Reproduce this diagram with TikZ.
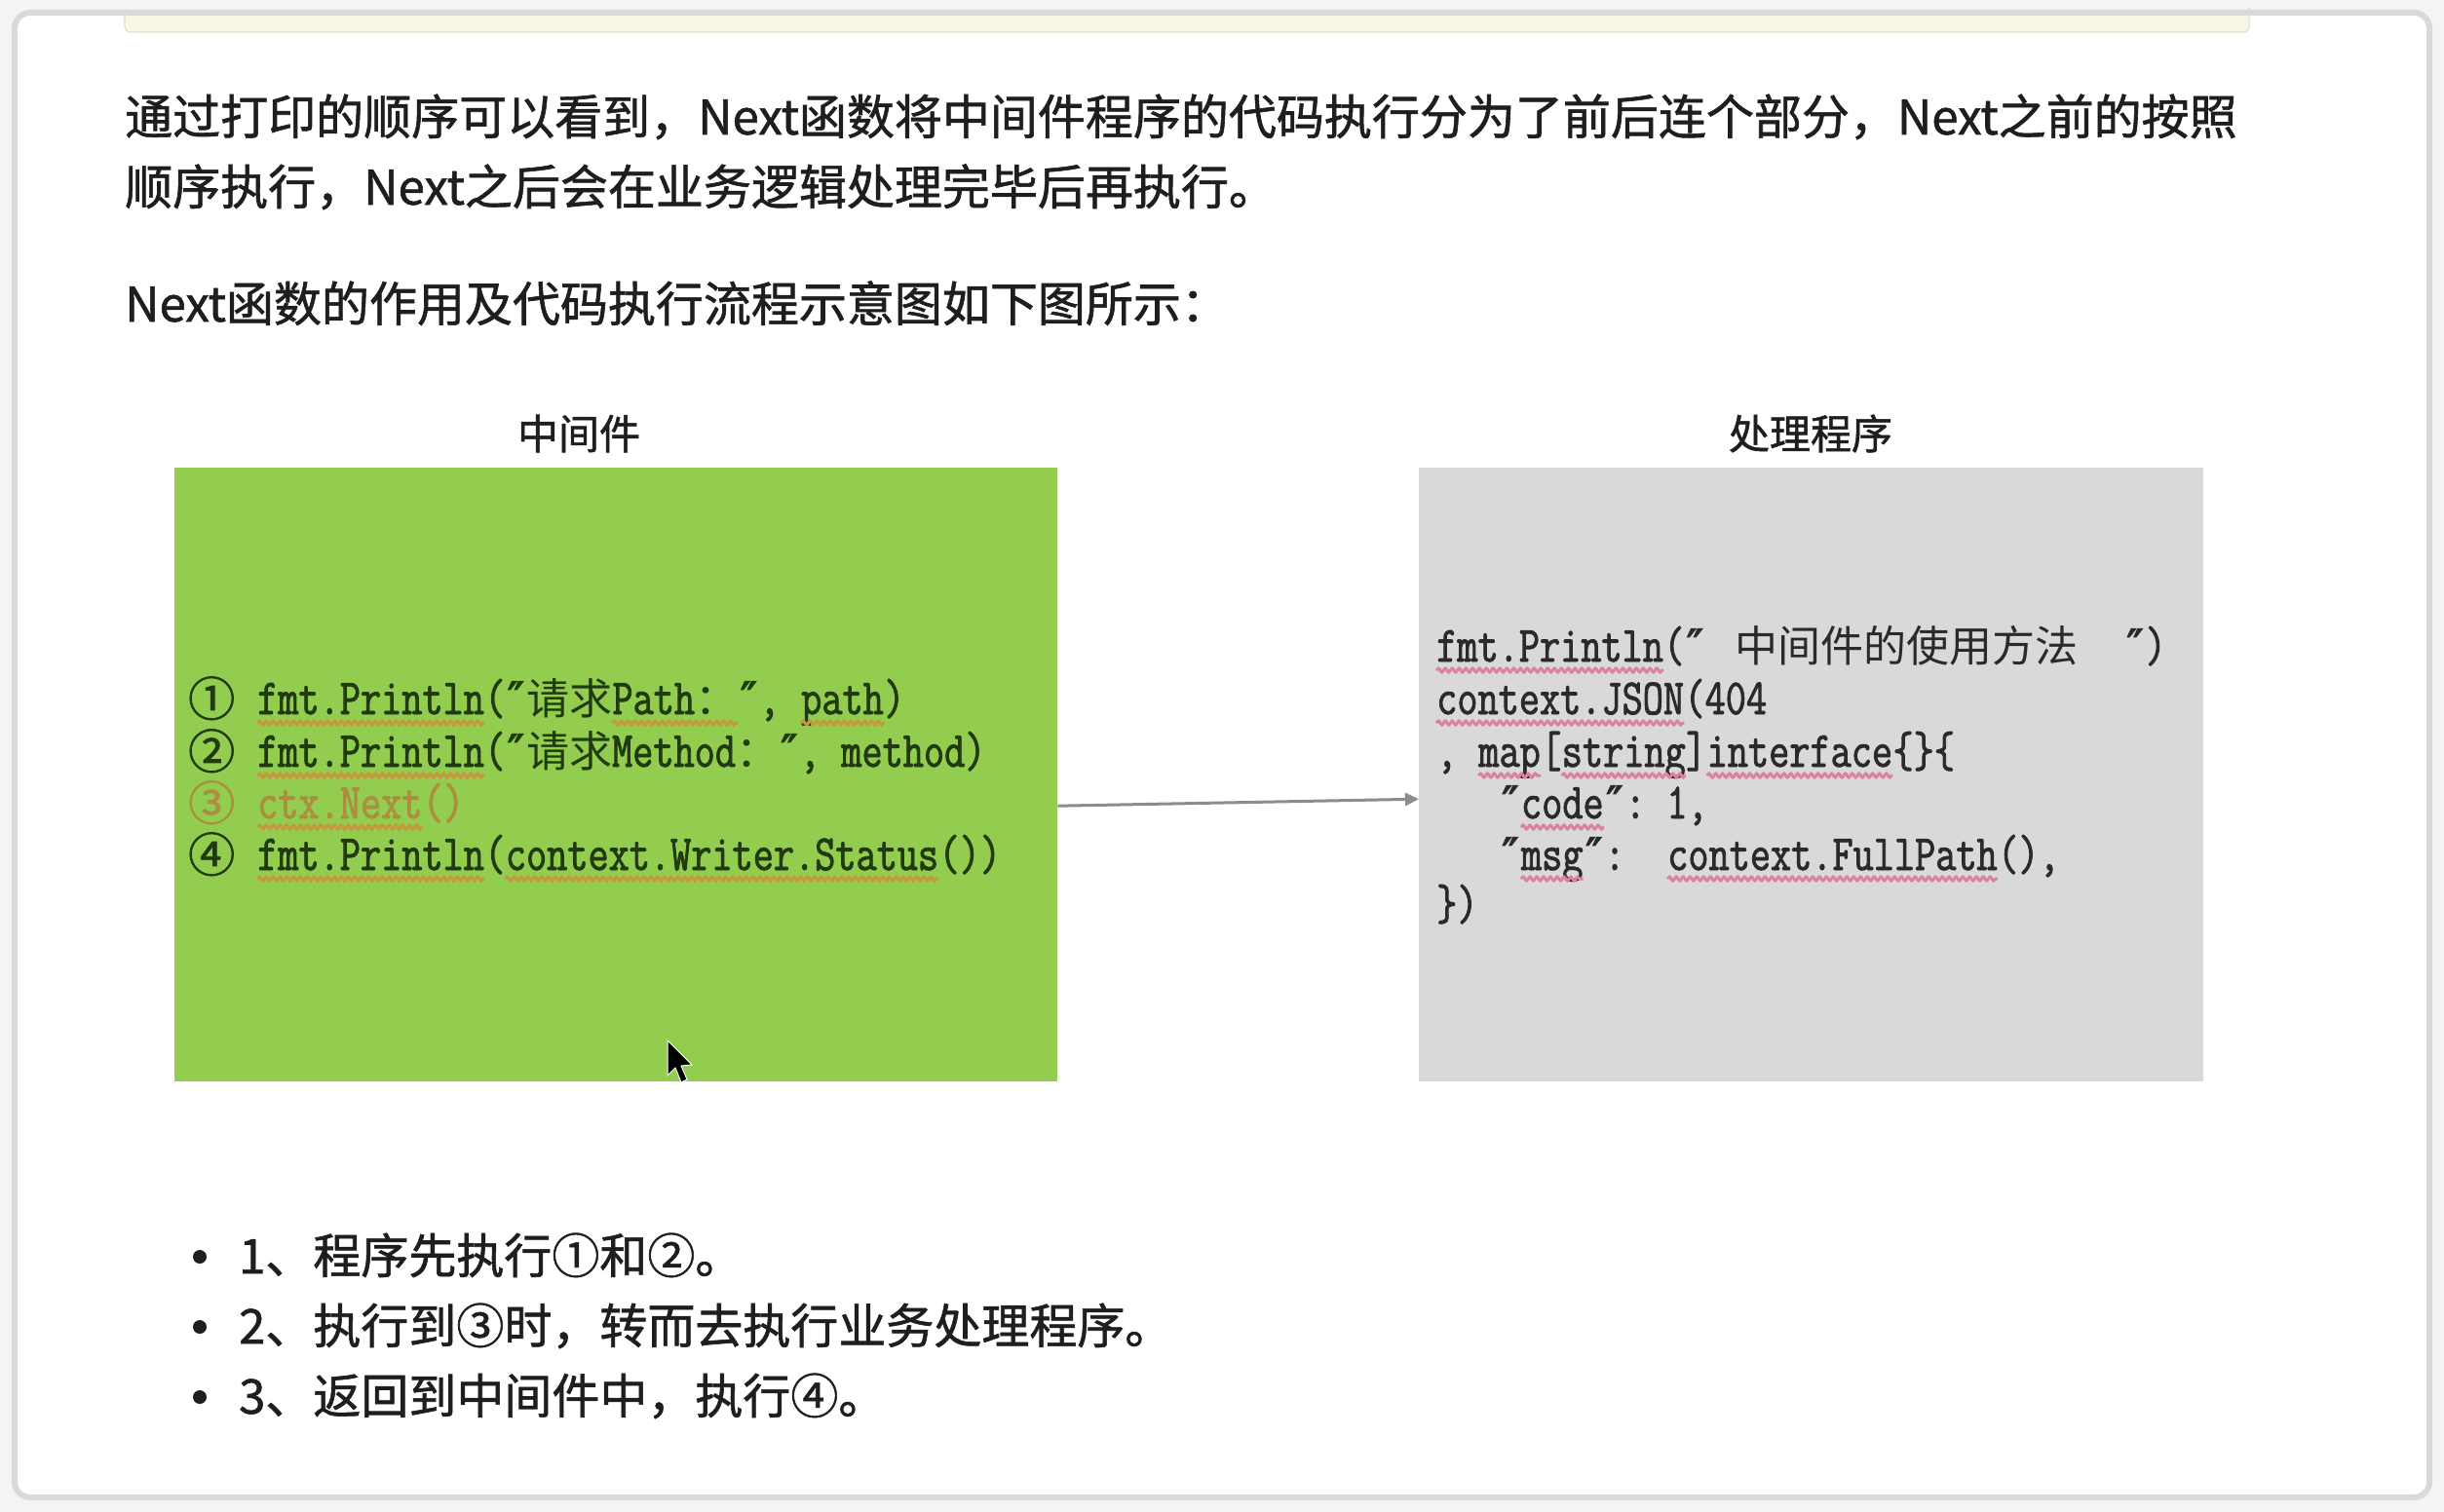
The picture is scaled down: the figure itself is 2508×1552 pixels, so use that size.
\documentclass[tikz,border=0pt]{standalone}
\usepackage{fontspec}
\setmainfont{Noto Sans CJK SC}[FakeBold=1.2]
\newfontfamily\cjk{Noto Sans CJK SC}
\newfontfamily\numfont{Noto Sans CJK SC}[FakeBold=1.6]
\newfontfamily\qfont{DejaVu Sans}[FakeBold=2.5]
\newfontfamily\codefont{Latin Modern Mono}[FakeStretch=0.79,FakeBold=1.6]
\usetikzlibrary{arrows.meta,decorations.pathmorphing}
\definecolor{pagebg}{HTML}{F4F4F4}
\definecolor{cardline}{HTML}{D9D9D9}
\definecolor{cream}{HTML}{F8F6E6}
\definecolor{creamline}{HTML}{E2E0CC}
\definecolor{txt}{HTML}{1E1E1E}
\definecolor{mwgreen}{HTML}{92CD50}
\definecolor{hpgray}{HTML}{D9D9D9}
\definecolor{greentxt}{HTML}{213A10}
\definecolor{graytxt}{HTML}{2A2A2A}
\definecolor{tancol}{HTML}{AC8E40}
\definecolor{wavetan}{HTML}{C8963C}
\definecolor{wavepink}{HTML}{D9849A}
\definecolor{arrowgray}{HTML}{8C8C8C}
\newcommand\zh[1]{{\fontsize{44}{50}\cjk #1}}
\newcommand\csp{\kern21.6pt}
\newcommand\qq{\makebox[21.6pt][c]{\fontsize{46}{50}\qfont ″}}
\newcommand\wv[2]{\draw[wave=#2] ([yshift=-9pt]#1.base west) -- ([yshift=-9pt]#1.base east);}
\tikzset{
  para/.style={anchor=base west, inner sep=0, text=txt, font=\fontsize{49}{58}\selectfont},
  lbl/.style={anchor=base, inner sep=0, text=txt, font=\fontsize{42}{50}\selectfont},
  bul/.style={anchor=base west, inner sep=0, text=txt, font=\fontsize{49}{58}\selectfont},
  dot/.style={circle, fill=txt, minimum size=14pt, inner sep=0},
  code/.style={anchor=base west, inner sep=0, font=\fontsize{52}{60}\codefont},
  gcode/.style={code, text=greentxt},
  hcode/.style={code, text=graytxt},
  num/.style={anchor=base west, inner sep=0, font=\fontsize{48}{54}\numfont},
  wave/.style={decorate, decoration={snake, amplitude=2pt, segment length=7pt}, line width=3pt, draw=#1},
  panel/.style={anchor=north west, inner sep=0, draw=none},
}
\begin{document}
\begin{tikzpicture}[x=1pt, y=-1pt]
\useasboundingbox (0,0) rectangle (2508,1552);
\fill[pagebg] (0,0) rectangle (2508,1552);
% card
\fill[white, rounded corners=16pt] (15,13) rectangle (2493,1537);
\fill[cream, rounded corners=6pt] (128,8) rectangle (2308,33);
\draw[creamline, line width=1.2pt, rounded corners=6pt] (128,8) -- (128,33) -- (2308,33) -- (2308,8);
\draw[cardline, line width=6pt, rounded corners=16pt] (15,13) rectangle (2493,1537);

% paragraph
\node[para] (p1) at (128,138) {通过打印的顺序可以看到，Next函数将中间件程序的代码执行分为了前后连个部分，Next之前的按照};
\node[para] (p2) at (128,210) {顺序执行，Next之后会在业务逻辑处理完毕后再执行。};
\node[para] (p3) at (128,330) {Next函数的作用及代码执行流程示意图如下图所示：};

% labels
\node[lbl] (l1) at (594,461) {中间件};
\node[lbl] (l2) at (1858,461) {处理程序};

% panels
\node[panel, fill=mwgreen, minimum width=906pt, minimum height=630pt] (mw) at (179,480) {};
\node[panel, fill=hpgray, minimum width=805pt, minimum height=630pt] (hp) at (1456,480) {};

% arrow
\draw[arrowgray, line width=3pt, -{Triangle[length=14pt,width=13pt]}] ([yshift=-32pt]mw.east) -- ([yshift=-25pt]hp.west);

% green code
\node[num, text=greentxt] (n1) at (193,735) {①};
\node[gcode] (g1a) at (264,733) {fmt.Println};
\node[gcode] (g1b) at (g1a.base east) {(\qq\zh{请求}};
\node[gcode] (g1c) at (g1b.base east) {Path\zh{：}};
\node[gcode] (g1d) at (g1c.base east) {\qq,\csp};
\node[gcode] (g1e) at (g1d.base east) {path};
\node[gcode] (g1f) at (g1e.base east) {)};

\node[num, text=greentxt] (n2) at (193,789) {②};
\node[gcode] (g2a) at (264,787) {fmt.Println};
\node[gcode] (g2b) at (g2a.base east) {(\qq\zh{请求}Method\zh{：}\qq,\csp method)};

\node[num, text=tancol] (n3) at (193,842) {③};
\node[code, text=tancol] (g3a) at (264,840) {ctx.Next};
\node[code, text=tancol] (g3b) at (g3a.base east) {()};

\node[num, text=greentxt] (n4) at (193,895) {④};
\node[gcode] (g4a) at (264,893) {fmt.Println};
\node[gcode] (g4b) at (g4a.base east) {(};
\node[gcode] (g4c) at (g4b.base east) {context.Writer.Status};
\node[gcode] (g4d) at (g4c.base east) {())};

\wv{g1a}{wavetan}
\wv{g1c}{wavetan}
\wv{g1e}{wavetan}
\wv{g2a}{wavetan}
\wv{g3a}{wavetan}
\wv{g4a}{wavetan}
\wv{g4c}{wavetan}

% gray code
\node[hcode] (h1a) at (1474,679) {fmt.Println};
\node[hcode] (h1b) at (h1a.base east) {(\qq\kern30pt\zh{中间件的使用方法}\kern48pt\qq)};

\node[hcode] (h2a) at (1474,733) {context.JSON};
\node[hcode] (h2b) at (h2a.base east) {(404};

\node[hcode] (h3a) at (1474,787) {,\csp};
\node[hcode] (h3b) at (h3a.base east) {map};
\node[hcode] (h3c) at (h3b.base east) {[};
\node[hcode] (h3d) at (h3c.base east) {string};
\node[hcode] (h3e) at (h3d.base east) {]};
\node[hcode] (h3f) at (h3e.base east) {interface};
\node[hcode] (h3g) at (h3f.base east) {\{\}\{};

\node[hcode] (h4a) at (1474,840) {\csp\csp\csp\qq};
\node[hcode] (h4b) at (h4a.base east) {code};
\node[hcode] (h4c) at (h4b.base east) {\qq:\csp 1,};

\node[hcode] (h5a) at (1474,893) {\csp\csp\csp\qq};
\node[hcode] (h5b) at (h5a.base east) {msg};
\node[hcode] (h5c) at (h5b.base east) {\qq:\csp\csp};
\node[hcode] (h5d) at (h5c.base east) {context.FullPath};
\node[hcode] (h5e) at (h5d.base east) {(),};

\node[hcode] (h6a) at (1474,944) {\})};

\wv{h1a}{wavepink}
\wv{h2a}{wavepink}
\wv{h3b}{wavepink}
\wv{h3d}{wavepink}
\wv{h3f}{wavepink}
\wv{h4b}{wavepink}
\wv{h5b}{wavepink}
\wv{h5d}{wavepink}

% cursor
\fill[black, draw=white, line width=1pt] (685,1068) -- (685,1104) -- (693,1096) -- (699,1111) -- (705,1108) -- (699,1094) -- (710,1093) -- cycle;

% bullets
\node[dot] (b1) at (205,1290) {};
\node[bul] (t1) at (245,1307) {1、程序先执行①和②。};
\node[dot] (b2) at (205,1362) {};
\node[bul] (t2) at (245,1379) {2、执行到③时，转而去执行业务处理程序。};
\node[dot] (b3) at (205,1434) {};
\node[bul] (t3) at (245,1451) {3、返回到中间件中，执行④。};
\end{tikzpicture}
\end{document}
